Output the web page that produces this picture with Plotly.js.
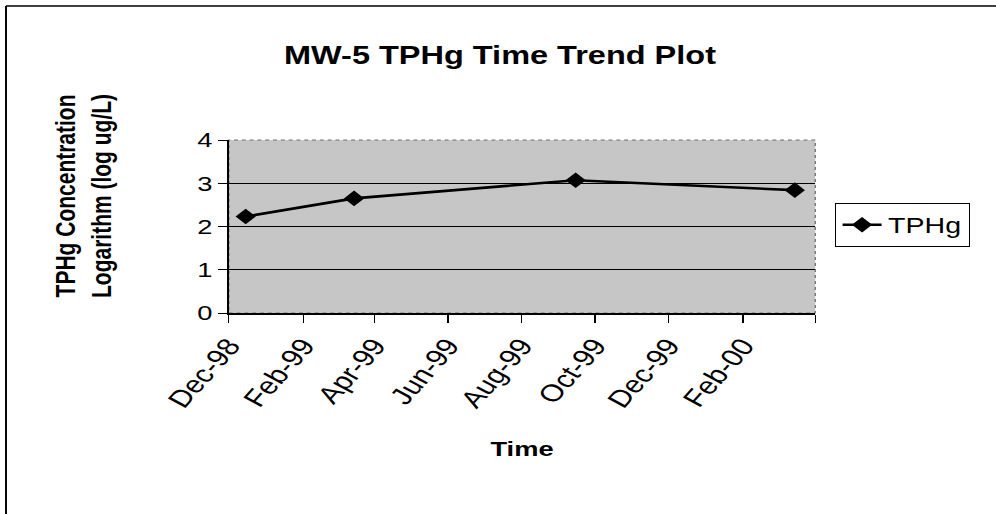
<!DOCTYPE html>
<html>
<head>
<meta charset="utf-8">
<script src="https://cdn.plot.ly/plotly-3.0.1.min.js"></script>
<style>
  html, body { margin: 0; padding: 0; background: #ffffff; overflow: hidden; }
  #wrap { width: 996px; height: 514px; overflow: hidden; }
  #chart { width: 766px; height: 514px; transform: scaleX(1.30026); transform-origin: 0 0; }
</style>
</head>
<body>
<div id="wrap"><div id="chart"></div></div>
<script>
// ---- data ----
const sampleDates = ['1998-12-15', '1999-03-15', '1999-09-15', '2000-03-15'];
const logConcentration = [2.23, 2.65, 3.07, 2.84];
const seriesName = 'TPHg';
const tickDates = ['1998-12-01', '1999-02-01', '1999-04-01', '1999-06-01', '1999-08-01',
                   '1999-10-01', '1999-12-01', '2000-02-01', '2000-04-01'];
const tickLabels = ['Dec-98', 'Feb-99', 'Apr-99', 'Jun-99', 'Aug-99',
                    'Oct-99', 'Dec-99', 'Feb-00', ''];
const xRange = ['1998-12-01', '2000-04-01'];
const yRange = [0, 4];

// ---- layout geometry (pre-stretch pixels) ----
const W = 766, H = 514;
const M = { l: 176, r: 139, t: 140, b: 201 };
const pw = W - M.l - M.r, ph = H - M.t - M.b;
const px2x = p => (p - M.l) / pw;
const py2y = p => (H - M.b - p) / ph;
const SX = 996 / 766;

const FONT = 'Liberation Sans, Arial, sans-serif';

const trace = {
  x: sampleDates,
  y: logConcentration,
  name: seriesName,
  type: 'scatter',
  mode: 'lines+markers',
  line: { color: '#000000', width: 2.6 },
  marker: { symbol: 'diamond', color: '#000000', size: 12, line: { width: 0 } },
  showlegend: true
};

const layout = {
  width: W,
  height: H,
  margin: M,
  paper_bgcolor: '#ffffff',
  plot_bgcolor: '#c6c6c6',
  font: { family: FONT, color: '#000000' },
  title: {
    text: '<b>MW-5 TPHg Time Trend Plot</b>',
    font: { family: FONT, size: 25, color: '#000000' },
    x: (500 / SX) / W,
    xanchor: 'center',
    y: 1 - 55 / H,
    yanchor: 'middle',
    xref: 'container',
    yref: 'container'
  },
  xaxis: {
    type: 'date',
    range: xRange,
    tickmode: 'array',
    tickvals: tickDates,
    ticktext: tickLabels,
    tickangle: -55,
    tickfont: { family: FONT, size: 24, color: '#000000' },
    ticks: 'outside',
    ticklen: 8,
    tickwidth: 1,
    tickcolor: '#000000',
    showline: true,
    linecolor: '#000000',
    linewidth: 1.5,
    showgrid: false,
    zeroline: false,
    title: {
      text: '<b>Time</b>',
      font: { family: FONT, size: 21, color: '#000000' },
      standoff: 30
    },
    automargin: false
  },
  yaxis: {
    range: yRange,
    dtick: 1,
    tick0: 0,
    tickfont: { family: FONT, size: 21, color: '#000000' },
    ticks: 'outside',
    ticklen: 7,
    tickwidth: 1,
    tickcolor: '#000000',
    showline: true,
    linecolor: '#000000',
    linewidth: 1.5,
    showgrid: true,
    gridcolor: '#000000',
    gridwidth: 1.3,
    zeroline: false,
    automargin: false
  },
  legend: {
    x: px2x(642),
    xanchor: 'left',
    y: py2y(203),
    yanchor: 'top',
    bgcolor: '#ffffff',
    bordercolor: '#000000',
    borderwidth: 1,
    font: { family: FONT, size: 22, color: '#000000' }
  },
  annotations: [{
    text: '<b>TPHg Concentration<br>Logarithm (log ug/L)</b>',
    xref: 'paper', yref: 'paper',
    x: px2x(64), y: py2y(196),
    xanchor: 'center', yanchor: 'middle',
    textangle: -90,
    showarrow: false,
    font: { family: FONT, size: 21, color: '#000000' }
  }],
  shapes: [
    { type: 'rect', xref: 'paper', yref: 'paper', x0: 0, x1: 1, y0: 0, y1: 1,
      line: { color: '#6e6e6e', width: 1, dash: 'dot' }, layer: 'below' },
    { type: 'line', xref: 'paper', yref: 'paper',
      x0: px2x(6 / SX), x1: px2x(W), y0: py2y(6), y1: py2y(6),
      line: { color: '#000000', width: 1.5 } },
    { type: 'line', xref: 'paper', yref: 'paper',
      x0: px2x(6 / SX), x1: px2x(6 / SX), y0: py2y(6), y1: py2y(H),
      line: { color: '#000000', width: 1.5 } }
  ]
};

Plotly.newPlot('chart', [trace], layout, { displayModeBar: false, staticPlot: true });
</script>
</body>
</html>
